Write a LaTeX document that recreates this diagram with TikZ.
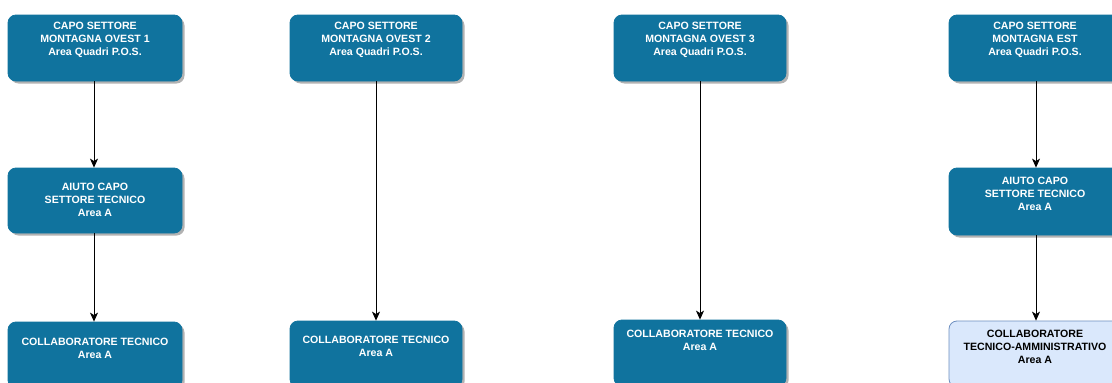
\documentclass[tikz,border=0pt]{standalone}
\usepackage{fontspec}
\setmainfont{Liberation Sans}
\usetikzlibrary{arrows.meta,shadows}
\definecolor{boxblue}{HTML}{10739E}
\definecolor{paleblue}{HTML}{DAE8FC}
\definecolor{paleedge}{HTML}{6C8EBF}
\tikzset{
  role/.style={rectangle, rounded corners=8pt, minimum width=174pt, minimum height=66pt,
    fill=boxblue, draw=boxblue, line width=0.8pt,
    drop shadow={shadow xshift=2.5pt, shadow yshift=-2.5pt, opacity=0.3, fill=black}},
  rolepale/.style={role, fill=paleblue, draw=paleedge},
  roletext/.style={align=center, font=\fontsize{10.6}{13}\selectfont\bfseries, text=white, inner sep=0pt},
  roletextdark/.style={roletext, text=black},
  link/.style={draw=black, line width=0.8pt, -{Stealth[length=9pt,width=8pt,inset=2.5pt]}}
}
\begin{document}
\begin{tikzpicture}[x=1pt,y=-1pt]
\useasboundingbox (0,0) rectangle (1112,383);
\clip (0,0) rectangle (1112,383);
\fill[white] (0,0) rectangle (1112,383);

% column 1
\node[role] (c1top) at (95,48) {};
\node[roletext] (c1top-t) at (95,40) {CAPO SETTORE\\MONTAGNA OVEST 1\\Area Quadri P.O.S.};
\node[role, minimum height=65pt] (c1mid) at (95,200.5) {};
\node[roletext] (c1mid-t) at (95,200) {AIUTO CAPO\\SETTORE TECNICO\\Area A};
\node[role] (c1bot) at (95,355) {};
\node[roletext] (c1bot-t) at (95,348) {COLLABORATORE TECNICO\\Area A};

% column 2
\node[role, minimum width=172pt] (c2top) at (376,48) {};
\node[roletext] (c2top-t) at (376,40) {CAPO SETTORE\\MONTAGNA OVEST 2\\Area Quadri P.O.S.};
\node[role, minimum width=172pt] (c2bot) at (376,354) {};
\node[roletext] (c2bot-t) at (376,346.5) {COLLABORATORE TECNICO\\Area A};

% column 3
\node[role, minimum width=172pt] (c3top) at (700,48) {};
\node[roletext] (c3top-t) at (700,40) {CAPO SETTORE\\MONTAGNA OVEST 3\\Area Quadri P.O.S.};
\node[role, minimum width=172pt] (c3bot) at (700,353) {};
\node[roletext] (c3bot-t) at (700,340) {COLLABORATORE TECNICO\\Area A};

% column 4
\node[role] (c4top) at (1036,48) {};
\node[roletext] (c4top-t) at (1035,40) {CAPO SETTORE\\MONTAGNA EST\\Area Quadri P.O.S.};
\node[role, minimum height=67pt] (c4mid) at (1036,201.5) {};
\node[roletext] (c4mid-t) at (1035,194) {AIUTO CAPO\\SETTORE TECNICO\\Area A};
\node[rolepale] (c4bot) at (1036,354) {};
\node[roletextdark] (c4bot-t) at (1035,346.5) {COLLABORATORE\\TECNICO-AMMINISTRATIVO\\Area A};

% reporting lines
\draw[link] (c1top.south -| 94,0) -- (c1mid.north -| 94,0);
\draw[link] (c1mid.south -| 94,0) -- (c1bot.north -| 94,0);
\draw[link] (c2top.south) -- (c2bot.north);
\draw[link] (c3top.south) -- (c3bot.north);
\draw[link] (c4top.south) -- (c4mid.north);
\draw[link] (c4mid.south) -- (c4bot.north);
\end{tikzpicture}
\end{document}
